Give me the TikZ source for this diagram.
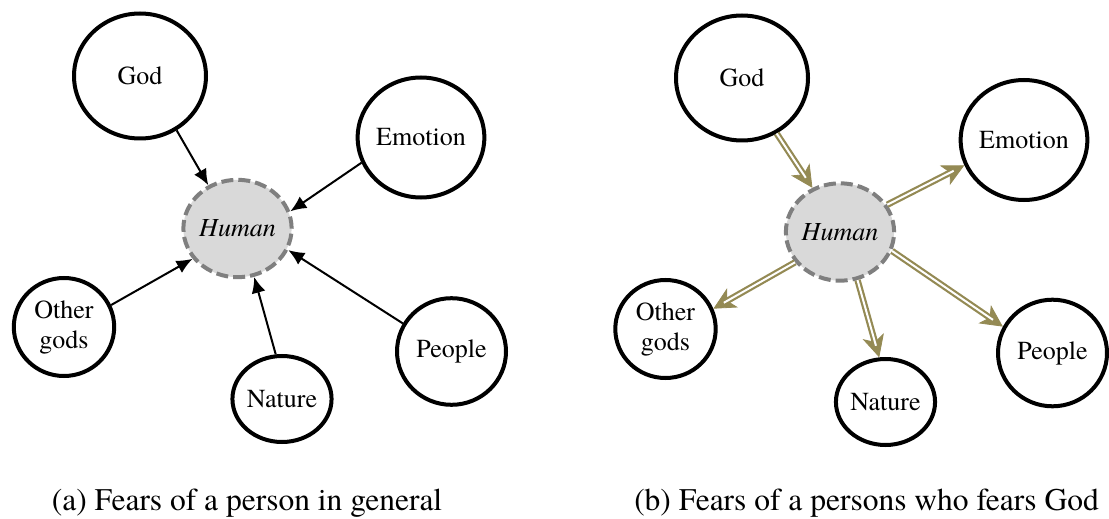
\documentclass[tikz,border=0pt]{standalone}
\usepackage{fontspec}
\setmainfont{texgyretermes}[Extension=.otf, UprightFont=*-regular, ItalicFont=*-italic, BoldFont=*-bold]
\usetikzlibrary{arrows.meta,shapes.geometric}
\definecolor{fearolive}{HTML}{948A54}
\definecolor{humangray}{HTML}{7F7F7F}
\definecolor{humanfill}{HTML}{D9D9D9}

\begin{document}
\begin{tikzpicture}[x=0.5pt, y=-0.5pt,
  fear/.style={ellipse, draw, line width=2pt, inner sep=0pt, align=center, font=\fontsize{13}{15}\selectfont},
  human/.style={fear, draw=humangray, fill=humanfill, dash pattern=on 6pt off 2.5pt, minimum width=50.7pt, minimum height=48.7pt},
  god/.style={minimum width=66pt, minimum height=62.5pt},
  emotion/.style={minimum width=62pt, minimum height=60pt},
  othergods/.style={minimum width=50.2pt, minimum height=49pt},
  nature/.style={minimum width=42.7pt, minimum height=43pt},
  people/.style={minimum width=54.5pt, minimum height=53.3pt},
  fearsA/.style={-{Latex[length=8pt,width=7pt]}, line width=1pt},
  fearhead/.style={-{Stealth[length=11pt,width=11pt,inset=3pt]}, draw=fearolive, line width=0.4pt},
  fearsB/.style={draw=fearolive, line width=1.1pt, double=white, double distance=1pt, shorten >=6pt},
  caption/.style={anchor=base, font=\fontsize{15.75}{19}\selectfont}]
  \useasboundingbox (0,0) rectangle (1109,519);

  % (a) in general
  \node[fear, god] (godA) at (140,76) {God};
  \node[fear, emotion] (emotionA) at (421,137.5) {Emotion};
  \node[human] (humanA) at (237.5,228.5) {\textit{Human}};
  \node[fear, othergods] (otherA) at (64,327) {Other\\gods};
  \node[fear, nature] (natureA) at (282,399) {Nature};
  \node[fear, people] (peopleA) at (451.5,351.5) {People};
  \draw[fearsA] (godA.304) -- (humanA.124);
  \draw[fearsA] (emotionA.203) -- (humanA.18);
  \draw[fearsA] (otherA.25) -- (humanA.214);
  \draw[fearsA] (natureA.98) -- (humanA.289);
  \draw[fearsA] (peopleA.150) -- (humanA.337);
  \node[caption] (capA) at (247,510) {(a) Fears of a person in general};

  % (b) fears God
  \node[fear, god] (godB) at (742,78) {God};
  \node[fear, emotion] (emotionB) at (1024,140) {Emotion};
  \node[human] (humanB) at (840,232) {\textit{Human}};
  \node[fear, othergods] (otherB) at (665.5,329) {Other\\gods};
  \node[fear, nature] (natureB) at (885.5,402) {Nature};
  \node[fear, people] (peopleB) at (1052.5,353) {People};
  \foreach \from/\to in {godB.302/humanB.122, humanB.30/emotionB.203, humanB.214/otherB.23,
                         humanB.290/natureB.98, humanB.340/peopleB.152}{
    \draw[fearhead] (\from) -- (\to);
    \draw[fearsB] (\from) -- (\to);
  }
  \node[caption] (capB) at (866.5,510) {(b) Fears of a persons who fears God};
\end{tikzpicture}
\end{document}
